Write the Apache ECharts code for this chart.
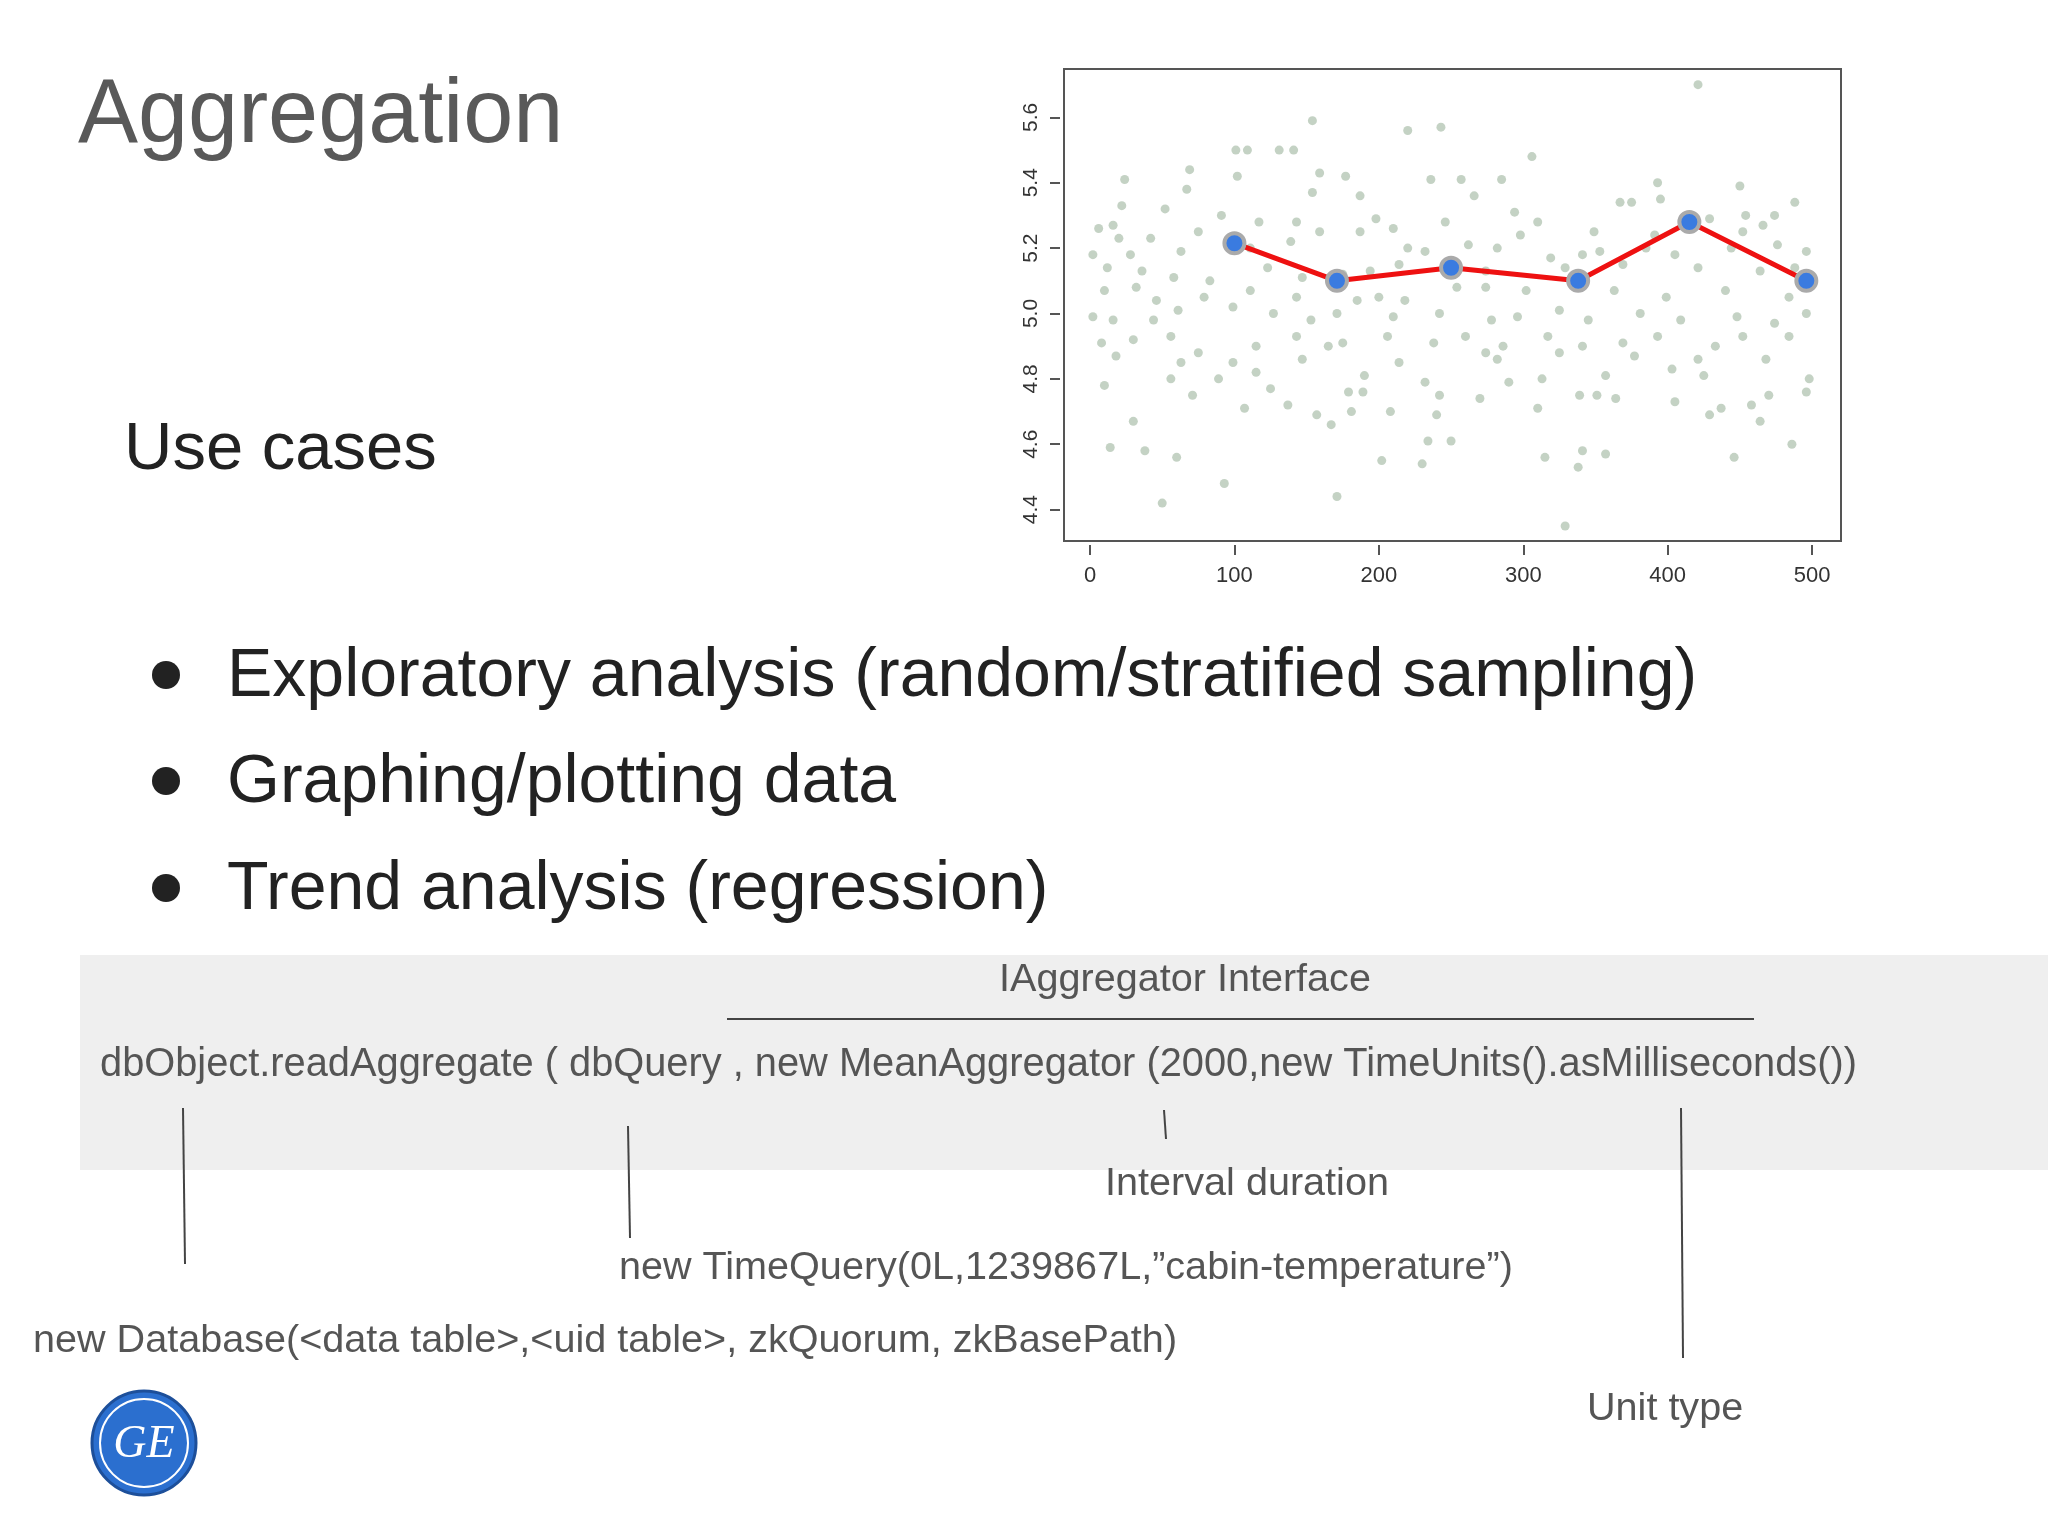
<!DOCTYPE html>
<html><head><meta charset="utf-8">
<script src="https://cdn.jsdelivr.net/npm/echarts@6/dist/echarts.min.js"></script>
<style>html,body{margin:0;padding:0;background:#fff}#c{width:2048px;height:1536px}</style>
</head><body><div id="c"></div>
<script>
const xTicks=[0,100,200,300,400,500];
const yTicks=[4.4,4.6,4.8,5.0,5.2,5.4,5.6];
const rawX=[101,109,131,141,154,220,243,421,306,24,69,102,159,177,236,257,285,393,450,22,52,67,154,187,266,294,367,375,395,488,454,474,6,16,91,117,143,198,246,310,429,466,452,20,42,75,159,210,187,298,349,391,476,2,28,63,111,139,220,232,262,282,319,341,353,385,405,444,496,12,36,58,83,123,147,175,194,214,274,329,369,421,464,488,10,32,46,79,111,143,185,200,218,254,274,302,363,399,440,484,2,16,44,61,99,127,153,171,210,242,278,296,325,345,381,409,448,474,496,8,30,56,75,115,143,165,175,206,238,260,274,286,317,341,369,393,433,452,484,18,63,99,147,214,282,325,377,421,468,56,89,115,190,232,290,313,357,403,425,498,10,71,125,179,189,242,270,339,351,364,470,496,107,137,157,181,208,240,310,405,429,437,458,30,167,464,234,250,486,14,38,60,202,230,315,341,357,446,338,93,171,50,329];
const rawY=[5.50,5.50,5.50,5.50,5.59,5.56,5.57,5.70,5.48,5.41,5.44,5.42,5.43,5.42,5.41,5.41,5.41,5.40,5.39,5.33,5.32,5.38,5.37,5.36,5.36,5.31,5.34,5.34,5.35,5.34,5.30,5.30,5.26,5.27,5.30,5.28,5.28,5.29,5.28,5.28,5.29,5.27,5.25,5.23,5.23,5.25,5.25,5.26,5.25,5.24,5.25,5.24,5.21,5.18,5.18,5.19,5.20,5.22,5.20,5.19,5.21,5.20,5.17,5.18,5.19,5.20,5.18,5.20,5.19,5.14,5.13,5.11,5.10,5.14,5.11,5.12,5.13,5.15,5.13,5.14,5.15,5.14,5.13,5.14,5.07,5.08,5.04,5.05,5.07,5.05,5.04,5.05,5.04,5.08,5.08,5.07,5.07,5.05,5.07,5.05,4.99,4.98,4.98,5.01,5.02,5.00,4.98,5.00,4.99,5.00,4.98,4.99,5.01,4.98,5.00,4.98,4.99,4.97,5.00,4.91,4.92,4.93,4.88,4.90,4.93,4.90,4.91,4.93,4.91,4.93,4.88,4.90,4.93,4.90,4.91,4.93,4.90,4.93,4.93,4.87,4.85,4.85,4.86,4.85,4.86,4.88,4.87,4.86,4.86,4.80,4.80,4.82,4.81,4.79,4.79,4.80,4.81,4.83,4.81,4.80,4.78,4.75,4.77,4.76,4.76,4.75,4.74,4.75,4.75,4.74,4.75,4.76,4.71,4.72,4.69,4.70,4.70,4.69,4.71,4.73,4.69,4.71,4.72,4.67,4.66,4.67,4.61,4.61,4.60,4.59,4.58,4.56,4.55,4.54,4.56,4.58,4.57,4.56,4.53,4.48,4.44,4.42,4.35];
const aggX=[100,171,250,338,415,496];
const aggY=[5.215,5.10,5.14,5.10,5.28,5.10];
const title='Aggregation';
const subtitle='Use cases';
const bullets=['Exploratory analysis (random/stratified sampling)','Graphing/plotting data','Trend analysis (regression)'];

const scatter=rawX.map((x,i)=>[x,rawY[i]]);
const agg=aggX.map((x,i)=>[x,aggY[i]]);
const tc='#595959';
const g=[];
g.push({type:'text',left:78,top:72,style:{text:title,font:'90px "Liberation Sans", Arial',fill:tc}});
g.push({type:'text',left:124,top:417,style:{text:subtitle,font:'67px "Liberation Sans", Arial',fill:'#222'}});
const by=[675,781,888];
bullets.forEach((b,i)=>{
  g.push({type:'circle',shape:{cx:166,cy:by[i],r:14},style:{fill:'#222'}});
  g.push({type:'text',left:227,top:by[i]-32,style:{text:b,font:'68px "Liberation Sans", Arial',fill:'#222'}});
});
g.push({type:'rect',shape:{x:80,y:955,width:1968,height:215},style:{fill:'#efefef'},z:-1});
const sf='39.6px "Liberation Sans", Arial', sc='#555';
g.push({type:'text',x:1185,y:980,style:{text:'IAggregator Interface',font:sf,fill:sc,align:'center',verticalAlign:'middle'}});
g.push({type:'line',shape:{x1:727,y1:1019,x2:1754,y2:1019},style:{stroke:'#444',lineWidth:2}});
g.push({type:'text',x:100,y:1065,style:{text:'dbObject.readAggregate ( dbQuery , new MeanAggregator (2000,new TimeUnits().asMilliseconds())',font:'39.8px "Liberation Sans", Arial',fill:sc,verticalAlign:'middle'}});
[[183,1108,1264],[628,1126,1238],[1164,1110,1139],[1681,1108,1358]].forEach(l=>g.push({type:'line',shape:{x1:l[0],y1:l[1],x2:l[0]+2,y2:l[2]},style:{stroke:'#444',lineWidth:2}}));
g.push({type:'text',x:1247,y:1184,style:{text:'Interval duration',font:sf,fill:sc,align:'center',verticalAlign:'middle'}});
g.push({type:'text',x:619,y:1268,style:{text:'new TimeQuery(0L,1239867L,\u201dcabin-temperature\u201d)',font:sf,fill:sc,verticalAlign:'middle'}});
g.push({type:'text',x:33,y:1341,style:{text:'new Database(<data table>,<uid table>, zkQuorum, zkBasePath)',font:sf,fill:sc,verticalAlign:'middle'}});
g.push({type:'text',x:1587,y:1409,style:{text:'Unit type',font:sf,fill:sc,verticalAlign:'middle'}});
g.push({type:'circle',shape:{cx:144,cy:1443,r:52},style:{fill:'#2b6fcf',stroke:'#1d4f9a',lineWidth:3}});
g.push({type:'circle',shape:{cx:144,cy:1443,r:44},style:{fill:'none',stroke:'#fff',lineWidth:2}});
g.push({type:'text',x:144,y:1445,style:{text:'GE',font:'italic 46px "Liberation Serif", serif',fill:'#fff',align:'center',verticalAlign:'middle'}});

const chart=echarts.init(document.getElementById('c'));
chart.setOption({
  animation:false,
  backgroundColor:'#fff',
  graphic:g,
  grid:{left:1064,top:69,width:777,height:472,show:true,borderColor:'#555',borderWidth:2,backgroundColor:'transparent'},
  xAxis:{type:'value',min:-18,max:520,position:'bottom',offset:4,
    axisLine:{show:false,onZero:false},splitLine:{show:false},
    axisTick:{show:true,inside:false,length:10,lineStyle:{color:'#555',width:2},customValues:xTicks},
    axisLabel:{color:'#333',fontSize:22,margin:20,customValues:xTicks,fontFamily:'Liberation Sans'}},
  yAxis:{type:'value',min:4.304,max:5.748,position:'left',offset:4,
    axisLine:{show:false,onZero:false},splitLine:{show:false},
    axisTick:{show:true,inside:false,length:10,lineStyle:{color:'#555',width:2},customValues:yTicks},
    axisLabel:{color:'#333',fontSize:21,rotate:90,margin:18,customValues:yTicks,formatter:v=>v.toFixed(1),fontFamily:'Liberation Sans'}},
  series:[
    {type:'scatter',data:scatter,symbolSize:9,itemStyle:{color:'rgba(70,115,70,0.4)'},silent:true},
    {type:'line',data:agg,lineStyle:{color:'#ee1111',width:5},symbol:'circle',symbolSize:20,
      itemStyle:{color:'#3a7be0',borderColor:'#aaa',borderWidth:4},z:5}
  ]
});
</script></body></html>
